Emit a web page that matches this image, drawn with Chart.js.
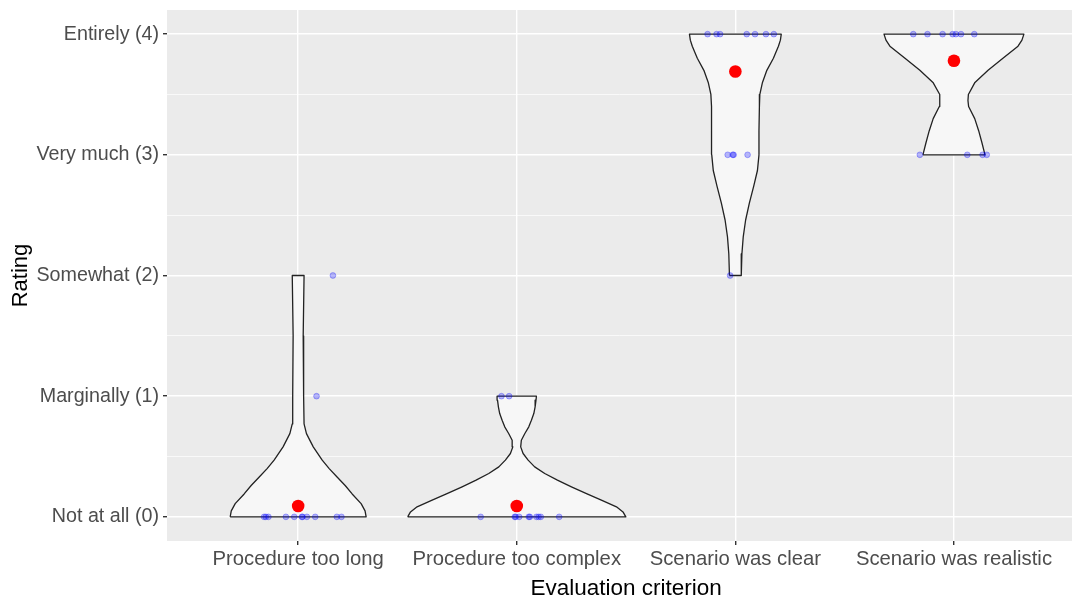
<!DOCTYPE html>
<html><head><meta charset="utf-8">
<script src="https://cdn.jsdelivr.net/npm/chart.js@4"></script>
<style>html,body{margin:0;padding:0;background:#fff}canvas{display:block}</style>
</head><body>
<canvas id="c" width="1073" height="599"></canvas>
<script>
// ---- Data ----
const categories = ['Procedure too long', 'Procedure too complex', 'Scenario was clear', 'Scenario was realistic'];
const ratingLabels = ['Not at all (0)', 'Marginally (1)', 'Somewhat (2)', 'Very much (3)', 'Entirely (4)'];
const yGridValues = [0, 0.5, 1, 1.5, 2, 2.5, 3, 3.5, 4];
const xTitle = 'Evaluation criterion';
const yTitle = 'Rating';

// violin outlines: rating levels and half-widths (in category units)
const violinLongY = [0, 0.05, 0.11, 0.19, 0.26, 0.33, 0.40, 0.47, 0.58, 0.69, 0.77, 1.0, 1.5, 2.0];
const violinLongW = [0.311, 0.306, 0.288, 0.247, 0.215, 0.178, 0.142, 0.110, 0.069, 0.038, 0.027, 0.025, 0.023, 0.027];
const violinComplexY = [0, 0.041, 0.083, 0.138, 0.193, 0.249, 0.304, 0.359, 0.414, 0.470, 0.525, 0.580, 0.635, 0.691, 0.746, 0.801, 0.856, 0.912, 0.967, 1.0];
const violinComplexW = [0.499, 0.486, 0.456, 0.387, 0.319, 0.250, 0.186, 0.128, 0.082, 0.052, 0.029, 0.018, 0.021, 0.037, 0.055, 0.067, 0.078, 0.084, 0.088, 0.090];
const violinClearY = [2.0, 2.18, 2.32, 2.46, 2.6, 2.74, 2.87, 3.0, 3.2, 3.4, 3.5, 3.6, 3.7, 3.8, 3.9, 3.95, 4.0];
const violinClearW = [0.027, 0.030, 0.036, 0.047, 0.064, 0.084, 0.101, 0.108, 0.108, 0.110, 0.112, 0.124, 0.144, 0.174, 0.197, 0.206, 0.210];
const violinRealY = [3.0, 3.1, 3.2, 3.3, 3.4, 3.45, 3.5, 3.6, 3.7, 3.8, 3.9, 3.95, 4.0];
const violinRealW = [0.142, 0.128, 0.113, 0.095, 0.067, 0.064, 0.066, 0.096, 0.156, 0.224, 0.293, 0.311, 0.320];

// individual ratings with horizontal jitter
const longRatings = [0,0,0,0,0,0,0,0,0,0,0,1,2];
const longJitter = [-0.156,-0.148,-0.136,-0.056,-0.018,0.017,0.020,0.040,0.078,0.177,0.198,0.084,0.159];
const complexRatings = [0,0,0,0,0,0,0,0,0,0,1,1];
const complexJitter = [-0.165,-0.009,-0.005,0.011,0.055,0.060,0.090,0.100,0.110,0.194,-0.070,-0.035];
const clearRatings = [4,4,4,4,4,4,4,3,3,3,3,2];
const clearJitter = [-0.127,-0.086,-0.070,0.052,0.090,0.140,0.176,-0.035,-0.012,-0.008,0.056,-0.024];
const realRatings = [4,4,4,4,4,4,4,3,3,3,3];
const realJitter = [-0.186,-0.121,-0.052,-0.006,0.009,0.032,0.093,-0.156,0.061,0.131,0.150];

const meanRatings = [0.09, 0.09, 3.69, 3.78];

// ---- Build datasets ----
function violinPolygon(center, ys, ws) {
  const left = ys.map((y, i) => ({x: center - ws[i], y}));
  const right = ys.map((y, i) => ({x: center + ws[i], y})).reverse();
  return left.concat(right, [left[0]]);
}
const violins = [
  [violinLongY, violinLongW], [violinComplexY, violinComplexW],
  [violinClearY, violinClearW], [violinRealY, violinRealW]
];
const pointsSets = [
  [longRatings, longJitter], [complexRatings, complexJitter],
  [clearRatings, clearJitter], [realRatings, realJitter]
];
const datasets = [];
violins.forEach(([ys, ws], i) => {
  datasets.push({
    type: 'line', data: violinPolygon(i + 1, ys, ws), order: 3,
    fill: 'shape', backgroundColor: '#F7F7F7', borderColor: '#222222', borderWidth: 1.3,
    pointRadius: 0, tension: 0, borderJoinStyle: 'round'
  });
});
pointsSets.forEach(([r, j], i) => {
  datasets.push({
    type: 'scatter', data: r.map((v, k) => ({x: i + 1 + j[k], y: v})), order: 2,
    pointRadius: 2.9, backgroundColor: 'rgba(0,0,255,0.27)', borderColor: 'rgba(0,0,255,0.35)', borderWidth: 0.8
  });
});
datasets.push({
  type: 'scatter', data: meanRatings.map((v, i) => ({x: i + 1, y: v})), order: 1,
  pointRadius: 6.3, backgroundColor: '#FF0000', borderColor: '#FF0000', borderWidth: 0
});

const FONT = "'Liberation Sans', Arial, sans-serif";
const panelBg = {
  id: 'panelBg',
  beforeDraw(chart) {
    const {ctx, chartArea: a} = chart;
    ctx.save(); ctx.fillStyle = '#EBEBEB';
    ctx.fillRect(a.left, a.top, a.right - a.left, a.bottom - a.top);
    ctx.restore();
  },
  afterDraw(chart) {
    // x-axis title centred on the (full) panel, as in the reference
    const x = chart.scales.x;
    const ctx = chart.ctx;
    ctx.save();
    ctx.fillStyle = '#000';
    ctx.font = '22.5px ' + FONT;
    ctx.textAlign = 'center';
    ctx.textBaseline = 'alphabetic';
    ctx.fillText(xTitle, x.getPixelForValue(2.5), x.bottom - 4);
    ctx.restore();
  }
};
function noPad(s) { s.paddingTop = 0; s.paddingBottom = 0; s.paddingLeft = 0; s.paddingRight = 0; }

new Chart(document.getElementById('c'), {
  type: 'scatter',
  data: {datasets},
  options: {
    responsive: false, animation: false, devicePixelRatio: 1,
    layout: {autoPadding: false, padding: {top: 10, right: 1, left: 0, bottom: 0}},
    plugins: {legend: {display: false}, tooltip: {enabled: false}},
    scales: {
      x: {
        type: 'linear', min: 0.4, max: 4.54,
        afterBuildTicks: s => { s.ticks = categories.map((c, i) => ({value: i + 1})); },
        afterFit: s => { s.height = 58; noPad(s); },
        border: {display: false},
        grid: {color: '#FFFFFF', lineWidth: 1.4, tickColor: '#333333', tickLength: 4},
        ticks: {callback: v => categories[Math.round(v) - 1], color: '#4D4D4D',
                font: {family: FONT, size: 20.3}, padding: 2, maxRotation: 0, autoSkip: false},
        title: {display: false}
      },
      y: {
        type: 'linear', min: -0.2, max: 4.2,
        afterBuildTicks: s => { s.ticks = yGridValues.map(v => ({value: v})); },
        afterFit: s => { s.width = 167; noPad(s); },
        border: {display: false},
        grid: {color: '#FFFFFF',
               lineWidth: c => Number.isInteger(c.tick.value) ? 1.4 : 0.7,
               tickColor: c => Number.isInteger(c.tick.value) ? '#333333' : 'rgba(0,0,0,0)',
               tickLength: 4},
        ticks: {callback: v => Number.isInteger(v) ? ratingLabels[v] : '', color: '#4D4D4D',
                font: {family: FONT, size: 19.7}, padding: 4, autoSkip: false},
        title: {display: true, text: yTitle, color: '#000',
                font: {family: FONT, size: 22}, padding: {top: 8, bottom: 0}}
      }
    }
  },
  plugins: [panelBg]
});
</script>
</body></html>
